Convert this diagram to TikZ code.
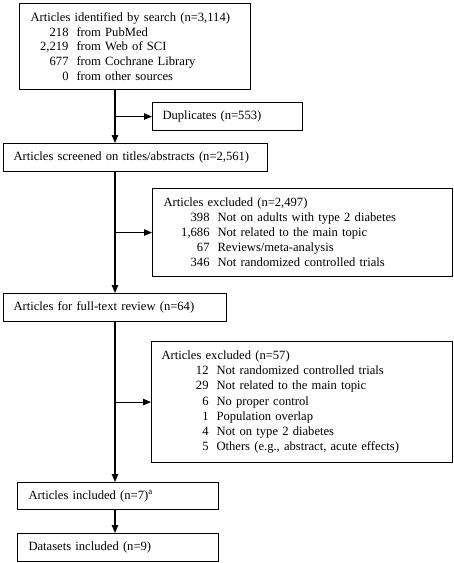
\documentclass[tikz,border=0pt]{standalone}
\usepackage{fontspec}
\setmainfont{Liberation Serif}
\usetikzlibrary{arrows.meta}
\newcommand{\numrow}[2]{\makebox[#1][r]{#2}\hspace{8pt}}
\begin{document}
\begin{tikzpicture}[x=1pt,y=-1pt,
  box/.style={draw, line width=1.1pt, anchor=north west, inner ysep=0pt,
    align=left, font=\fontsize{12.6}{15}\selectfont},
  arr/.style={line width=1.1pt, -{Triangle[length=8pt,width=6.5pt]}}]
\useasboundingbox (0,0) rectangle (454,563);
\node[box, inner xsep=11pt, text width=209pt, minimum height=86pt,
  font=\fontsize{12.6}{14.6}\selectfont] (b1) at (19,3)
  {Articles identified by search (n=3,114)\\
   \numrow{38pt}{218}from PubMed\\
   \numrow{38pt}{2,219}from Web of SCI\\
   \numrow{38pt}{677}from Cochrane Library\\
   \numrow{38pt}{0}from other sources};
\node[box, inner xsep=10pt, text width=130pt, minimum height=28pt] (dup) at (152,102)
  {Duplicates (n=553)};
\node[box, inner xsep=10pt, text width=244pt, minimum height=28pt] (scr) at (3,143)
  {Articles screened on titles/abstracts (n=2,561)};
\node[box, inner xsep=11pt, text width=278pt, minimum height=88pt] (ex1) at (152,188)
  {Articles excluded (n=2,497)\\
   \numrow{46pt}{398}Not on adults with type 2 diabetes\\
   \numrow{46pt}{1,686}Not related to the main topic\\
   \numrow{46pt}{67}Reviews/meta-analysis\\
   \numrow{46pt}{346}Not randomized controlled trials};
\node[box, inner xsep=10pt, text width=203pt, minimum height=28pt] (full) at (3,293)
  {Articles for full-text review (n=64)};
\node[box, inner xsep=10pt, text width=281pt, minimum height=121pt,
  font=\fontsize{12.6}{15.3}\selectfont] (ex2) at (151,341)
  {Articles excluded (n=57)\\
   \numrow{47pt}{12}Not randomized controlled trials\\
   \numrow{47pt}{29}Not related to the main topic\\
   \numrow{47pt}{6}No proper control\\
   \numrow{47pt}{1}Population overlap\\
   \numrow{47pt}{4}Not on type 2 diabetes\\
   \numrow{47pt}{5}Others (e.g., abstract, acute effects)};
\node[box, inner xsep=11pt, text width=179pt, minimum height=27pt] (inc) at (17,482)
  {Articles included (n=7)\textsuperscript{a}};
\node[box, inner xsep=11pt, text width=179pt, minimum height=28pt] (dat) at (17,533)
  {Datasets included (n=9)};
\coordinate (t) at (115,0);
\draw[arr] (t |- b1.south) -- (t |- scr.north);
\draw[arr] (t |- dup.west) -- (dup.west);
\draw[arr] (t |- scr.south) -- (t |- full.north);
\draw[arr] (t |- ex1.west) -- (ex1.west);
\draw[arr] (t |- full.south) -- (t |- inc.north);
\draw[arr] (t |- ex2.west) -- (ex2.west);
\draw[arr] (t |- inc.south) -- (t |- dat.north);
\end{tikzpicture}
\end{document}
